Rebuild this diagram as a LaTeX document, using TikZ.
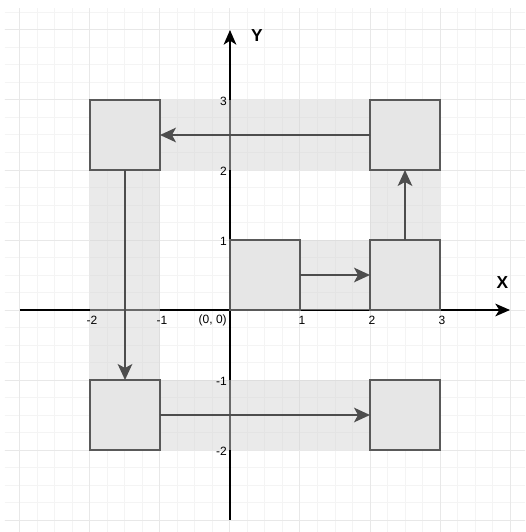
\documentclass[tikz,border=0pt]{standalone}
\usepackage{fontspec}
\setmainfont{Liberation Sans}
\usetikzlibrary{arrows.meta}
\definecolor{gridminor}{HTML}{F4F4F4}
\definecolor{gridmajor}{HTML}{E8E8E8}
\definecolor{boxfill}{HTML}{E6E6E6}
\definecolor{boxline}{HTML}{595959}
\definecolor{arrowcol}{HTML}{4D4D4D}
\definecolor{bandfill}{HTML}{D5D5D5}
\begin{document}
\begin{tikzpicture}[x=52.5pt,y=52.5pt,
  sq/.style={draw=boxline, fill=boxfill, line width=1.5pt, minimum width=52.5pt, minimum height=52.5pt, inner sep=0pt, outer sep=0pt},
  band/.style={fill=bandfill, fill opacity=0.5, draw=none},
  link/.style={draw=arrowcol, line width=1.1pt, -{Stealth[length=12pt,width=11pt,inset=3pt]}},
  axisline/.style={draw=black, line width=1.5pt, -{Stealth[length=11pt,width=9.5pt,inset=3pt]}},
  ticklab/.style={font=\fontsize{9}{10}\selectfont, inner sep=0pt},
  axlabel/.style={font=\fontsize{13}{15}\selectfont\bfseries, inner sep=0pt}]
\useasboundingbox (-230/70, 310/70) rectangle (295/70, -222/70);
% grid
\begin{scope}
\clip (-225/70, 301/70) rectangle (295/70, -222/70);
\draw[gridminor, line width=0.75pt, step=0.25] (-4,-4) grid (5,5);
\draw[gridmajor, line width=0.75pt, step=1] (-4,-4) grid (5,5);
\end{scope}
% axes
\coordinate (xs) at (-3,0);
\coordinate (xe) at (4,0);
\coordinate (ys) at (0,-3);
\coordinate (ye) at (0,4);
\draw[axisline] (xs) -- (xe);
\draw[axisline] (ys) -- (ye);
% bands
\fill[band] (-1,2) rectangle (2,3);
\fill[band] (2,1) rectangle (3,2);
\fill[band] (-2,-1) rectangle (-1,2);
\fill[band] (-1,-2) rectangle (2,-1);
\fill[band] (1,0) rectangle (2,1);
% squares
\node[sq] (a) at (0.5,0.5) {};
\node[sq] (b) at (2.5,0.5) {};
\node[sq] (c) at (2.5,2.5) {};
\node[sq] (d) at (-1.5,2.5) {};
\node[sq] (e) at (-1.5,-1.5) {};
\node[sq] (f) at (2.5,-1.5) {};
% arrows
\draw[link] (a.east) -- (b.west);
\draw[link] (b.north) -- (c.south);
\draw[link] (c.west) -- (d.east);
\draw[link] (d.south) -- (e.north);
\draw[link] (e.east) -- (f.west);
% tick labels
\node[ticklab] (tx1) at (-2+2/70, -10/70) {-2};
\node[ticklab] (tx2) at (-1+2/70, -10/70) {-1};
\node[ticklab, anchor=east] (tx0) at (-3/70, -10/70) {(0, 0)};
\node[ticklab] (tx3) at (1+2/70, -10/70) {1};
\node[ticklab] (tx4) at (2+2/70, -10/70) {2};
\node[ticklab] (tx5) at (3+2/70, -10/70) {3};
\node[ticklab, anchor=east] (ty1) at (-3/70, 3-1/70) {3};
\node[ticklab, anchor=east] (ty2) at (-3/70, 2-1/70) {2};
\node[ticklab, anchor=east] (ty3) at (-3/70, 1-1/70) {1};
\node[ticklab, anchor=east] (ty4) at (-3/70, -1-1/70) {-1};
\node[ticklab, anchor=east] (ty5) at (-3/70, -2-1/70) {-2};
% axis labels
\node[axlabel] (xl) at (272.5/70, 27/70) {X};
\node[axlabel] (yl) at (27/70, 274/70) {Y};
\end{tikzpicture}
\end{document}
